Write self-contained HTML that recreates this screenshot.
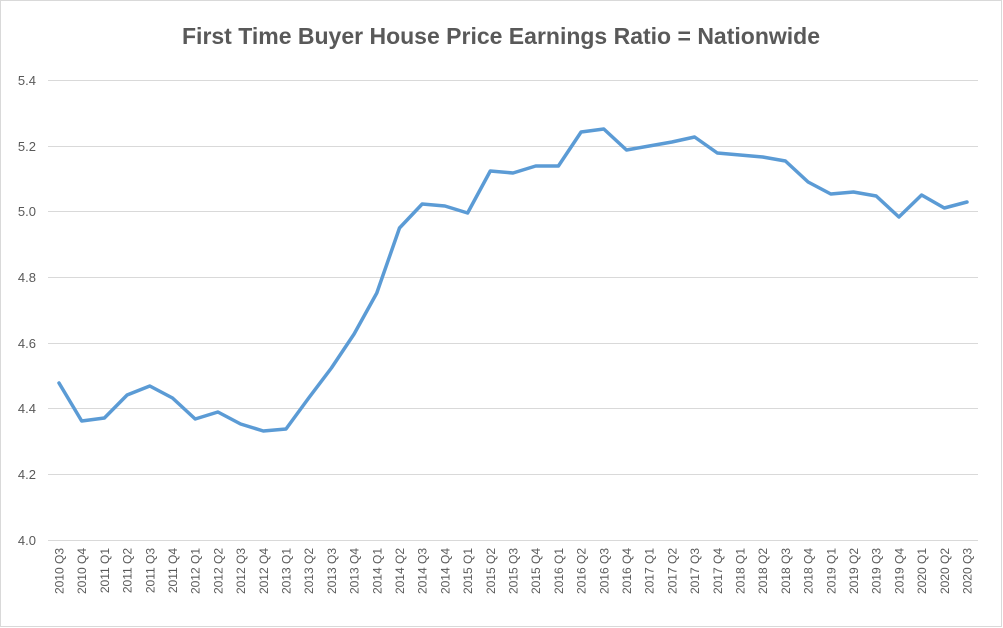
<!DOCTYPE html>
<html><head><meta charset="utf-8"><style>
html,body{margin:0;padding:0;background:#fff;}
svg{display:block;font-family:"Liberation Sans",Arial,sans-serif;}
</style></head><body>
<svg width="1003" height="628" viewBox="0 0 1003 628" xmlns="http://www.w3.org/2000/svg">
<rect x="0.5" y="0.5" width="1001" height="626" fill="#fff" stroke="#d9d9d9"/>
<text x="501" y="44" text-anchor="middle" font-size="23" font-weight="bold" fill="#595959">First Time Buyer House Price Earnings Ratio = Nationwide</text>
<g stroke="#d9d9d9" stroke-width="1">
<line x1="48" x2="978" y1="80.5" y2="80.5"/>
<line x1="48" x2="978" y1="146.5" y2="146.5"/>
<line x1="48" x2="978" y1="211.5" y2="211.5"/>
<line x1="48" x2="978" y1="277.5" y2="277.5"/>
<line x1="48" x2="978" y1="343.5" y2="343.5"/>
<line x1="48" x2="978" y1="408.5" y2="408.5"/>
<line x1="48" x2="978" y1="474.5" y2="474.5"/>
<line x1="48" x2="978" y1="540.5" y2="540.5"/>
</g>
<g font-size="13" fill="#595959" text-anchor="end">
<text x="36" y="85">5.4</text>
<text x="36" y="151">5.2</text>
<text x="36" y="216">5.0</text>
<text x="36" y="282">4.8</text>
<text x="36" y="348">4.6</text>
<text x="36" y="413">4.4</text>
<text x="36" y="479">4.2</text>
<text x="36" y="545">4.0</text>
</g>
<g font-size="12" fill="#595959" text-anchor="end">
<text transform="translate(63.5,548) rotate(-90)">2010 Q3</text>
<text transform="translate(86.2,548) rotate(-90)">2010 Q4</text>
<text transform="translate(108.9,548) rotate(-90)">2011 Q1</text>
<text transform="translate(131.6,548) rotate(-90)">2011 Q2</text>
<text transform="translate(154.3,548) rotate(-90)">2011 Q3</text>
<text transform="translate(177.0,548) rotate(-90)">2011 Q4</text>
<text transform="translate(199.7,548) rotate(-90)">2012 Q1</text>
<text transform="translate(222.4,548) rotate(-90)">2012 Q2</text>
<text transform="translate(245.1,548) rotate(-90)">2012 Q3</text>
<text transform="translate(267.8,548) rotate(-90)">2012 Q4</text>
<text transform="translate(290.5,548) rotate(-90)">2013 Q1</text>
<text transform="translate(313.2,548) rotate(-90)">2013 Q2</text>
<text transform="translate(335.9,548) rotate(-90)">2013 Q3</text>
<text transform="translate(358.6,548) rotate(-90)">2013 Q4</text>
<text transform="translate(381.3,548) rotate(-90)">2014 Q1</text>
<text transform="translate(404.0,548) rotate(-90)">2014 Q2</text>
<text transform="translate(426.7,548) rotate(-90)">2014 Q3</text>
<text transform="translate(449.4,548) rotate(-90)">2014 Q4</text>
<text transform="translate(472.1,548) rotate(-90)">2015 Q1</text>
<text transform="translate(494.8,548) rotate(-90)">2015 Q2</text>
<text transform="translate(517.5,548) rotate(-90)">2015 Q3</text>
<text transform="translate(540.2,548) rotate(-90)">2015 Q4</text>
<text transform="translate(562.9,548) rotate(-90)">2016 Q1</text>
<text transform="translate(585.6,548) rotate(-90)">2016 Q2</text>
<text transform="translate(608.3,548) rotate(-90)">2016 Q3</text>
<text transform="translate(631.0,548) rotate(-90)">2016 Q4</text>
<text transform="translate(653.7,548) rotate(-90)">2017 Q1</text>
<text transform="translate(676.4,548) rotate(-90)">2017 Q2</text>
<text transform="translate(699.1,548) rotate(-90)">2017 Q3</text>
<text transform="translate(721.8,548) rotate(-90)">2017 Q4</text>
<text transform="translate(744.5,548) rotate(-90)">2018 Q1</text>
<text transform="translate(767.2,548) rotate(-90)">2018 Q2</text>
<text transform="translate(789.9,548) rotate(-90)">2018 Q3</text>
<text transform="translate(812.6,548) rotate(-90)">2018 Q4</text>
<text transform="translate(835.3,548) rotate(-90)">2019 Q1</text>
<text transform="translate(858.0,548) rotate(-90)">2019 Q2</text>
<text transform="translate(880.7,548) rotate(-90)">2019 Q3</text>
<text transform="translate(903.4,548) rotate(-90)">2019 Q4</text>
<text transform="translate(926.1,548) rotate(-90)">2020 Q1</text>
<text transform="translate(948.8,548) rotate(-90)">2020 Q2</text>
<text transform="translate(971.5,548) rotate(-90)">2020 Q3</text>
</g>
<polyline fill="none" stroke="#5b9bd5" stroke-width="3.5" stroke-linejoin="round" stroke-linecap="round" points="59,383 81.7,421 104.4,418 127.1,395 149.8,386 172.5,398 195.2,419 217.9,412 240.6,424 263.3,431 286,429 308.7,398 331.4,368 354.1,334 376.8,293 399.5,228 422.2,204 444.9,206 467.6,213 490.3,171 513,173 535.7,166 558.4,166 581.1,132 603.8,129 626.5,150 649.2,146 671.9,142 694.6,137 717.3,153 740,155 762.7,157 785.4,161 808.1,182 830.8,194 853.5,192 876.2,196 898.9,217 921.6,195 944.3,208 967,202"/>
</svg>
</body></html>
